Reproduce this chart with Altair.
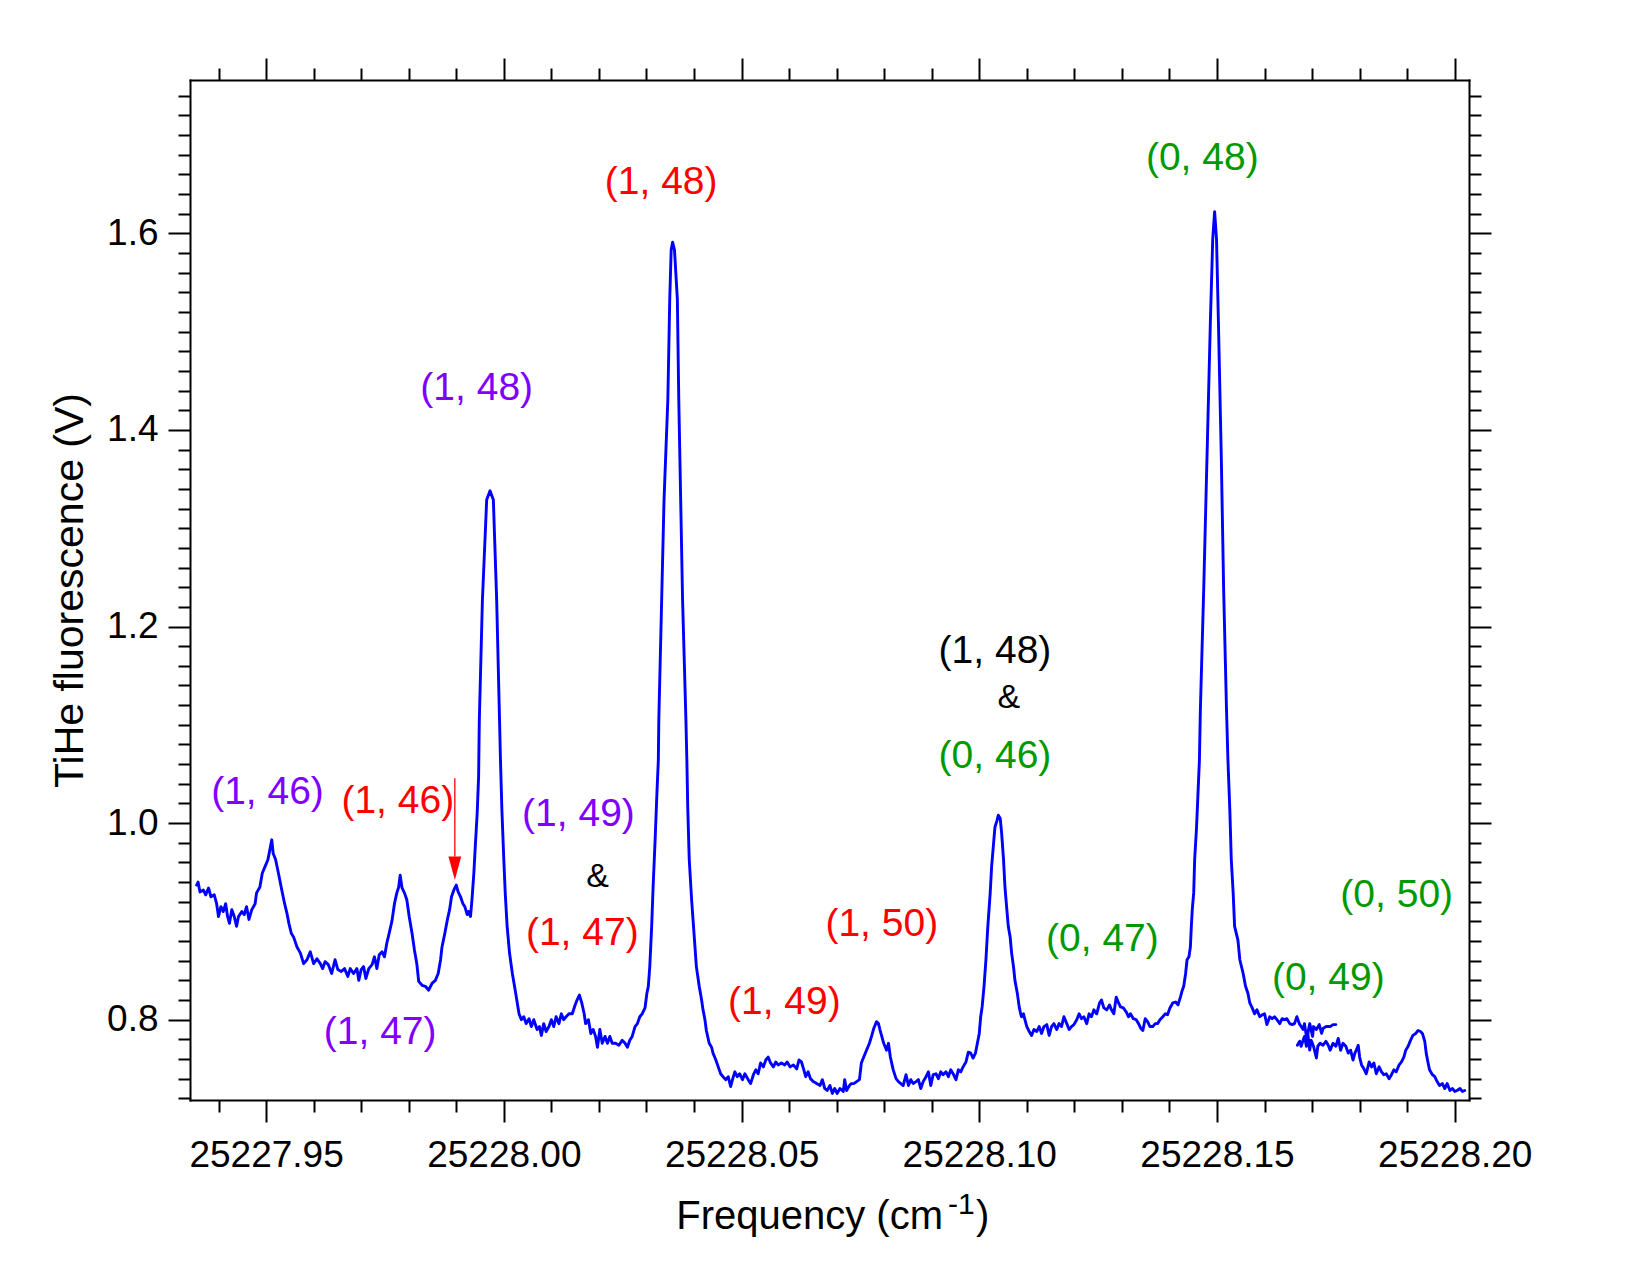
import altair as alt
import pandas as pd

# ---------------------------------------------------------------------------
# Spectrum, main scan (frequency in cm^-1, fluorescence in V)
# ---------------------------------------------------------------------------
freq_a = [
    25227.9354, 25227.9357, 25227.9361, 25227.9368, 25227.9373, 25227.9379, 25227.9384,
    25227.9391, 25227.9396, 25227.9400, 25227.9405, 25227.9410, 25227.9415, 25227.9419,
    25227.9423, 25227.9428, 25227.9433, 25227.9438, 25227.9442, 25227.9449, 25227.9454,
    25227.9459, 25227.9464, 25227.9470, 25227.9477, 25227.9480, 25227.9487, 25227.9492,
    25227.9498, 25227.9504, 25227.9508, 25227.9512, 25227.9515, 25227.9520, 25227.9526,
    25227.9533, 25227.9539, 25227.9544, 25227.9548, 25227.9553, 25227.9558, 25227.9565,
    25227.9572, 25227.9579, 25227.9586, 25227.9593, 25227.9600, 25227.9607, 25227.9614,
    25227.9619, 25227.9624, 25227.9631, 25227.9638, 25227.9645, 25227.9651, 25227.9658,
    25227.9665, 25227.9672, 25227.9677, 25227.9684, 25227.9691, 25227.9695, 25227.9700,
    25227.9705, 25227.9710, 25227.9716, 25227.9723, 25227.9728, 25227.9733, 25227.9738,
    25227.9744, 25227.9749, 25227.9754, 25227.9759, 25227.9765, 25227.9770, 25227.9775,
    25227.9779, 25227.9782, 25227.9786, 25227.9791, 25227.9796, 25227.9801, 25227.9807,
    25227.9812, 25227.9817, 25227.9821, 25227.9828, 25227.9835, 25227.9842, 25227.9849,
    25227.9856, 25227.9862, 25227.9867, 25227.9870, 25227.9876, 25227.9881, 25227.9886,
    25227.9890, 25227.9895, 25227.9900, 25227.9904, 25227.9909, 25227.9914, 25227.9918,
    25227.9923, 25227.9926, 25227.9930, 25227.9933, 25227.9937, 25227.9940, 25227.9944,
    25227.9947, 25227.99485, 25227.9955, 25227.9964, 25227.9971, 25227.9978, 25227.9985,
    25227.9991, 25227.9993, 25227.9996, 25228.0000, 25228.0003, 25228.0007, 25228.0012,
    25228.0018, 25228.0025, 25228.0032, 25228.0037, 25228.0042, 25228.0047, 25228.0053,
    25228.0058, 25228.0063, 25228.0070, 25228.0075, 25228.0079, 25228.0084, 25228.0089,
    25228.0095, 25228.0100, 25228.0105, 25228.0110, 25228.0116, 25228.0121, 25228.0126,
    25228.0131, 25228.0137, 25228.0144, 25228.0150, 25228.0154, 25228.0159, 25228.0164,
    25228.0169, 25228.0172, 25228.0178, 25228.0183, 25228.0188, 25228.0193, 25228.0197,
    25228.0202, 25228.0207, 25228.0213, 25228.0218, 25228.0223, 25228.0228, 25228.0235,
    25228.0242, 25228.0249, 25228.0255, 25228.0260, 25228.0265, 25228.0270, 25228.0276,
    25228.0281, 25228.0286, 25228.0291, 25228.0297, 25228.0301, 25228.0304, 25228.0307,
    25228.0311, 25228.0314, 25228.0318, 25228.0322, 25228.0325, 25228.0326, 25228.0332,
    25228.0337, 25228.0345, 25228.0349, 25228.0352, 25228.0355, 25228.0359, 25228.0365,
    25228.0368, 25228.0372, 25228.0376, 25228.0383, 25228.0385, 25228.0387, 25228.0390,
    25228.0395, 25228.0400, 25228.0405, 25228.0411, 25228.0416, 25228.0419, 25228.0423,
    25228.0426, 25228.0432, 25228.0437, 25228.0440, 25228.0446, 25228.0451, 25228.0456,
    25228.0461, 25228.0467, 25228.0472, 25228.0477, 25228.0481, 25228.0486, 25228.0491,
    25228.0496, 25228.0502, 25228.0507, 25228.0514, 25228.0519, 25228.0525, 25228.0530,
    25228.0535, 25228.0540, 25228.0546, 25228.0551, 25228.0556, 25228.0561, 25228.0567,
    25228.0572, 25228.0577, 25228.0584, 25228.0591, 25228.0596, 25228.0602, 25228.0609,
    25228.0616, 25228.0621, 25228.0626, 25228.0631, 25228.0635, 25228.0640, 25228.0645,
    25228.0651, 25228.0658, 25228.0665, 25228.0670, 25228.0675, 25228.0680, 25228.0686,
    25228.0691, 25228.0696, 25228.0701, 25228.0707, 25228.0714, 25228.0717, 25228.0721,
    25228.0727, 25228.0731, 25228.0736, 25228.0742, 25228.0748, 25228.0752, 25228.0757,
    25228.0763, 25228.0769, 25228.0774, 25228.0778, 25228.0784, 25228.0788, 25228.0791,
    25228.0795, 25228.0799, 25228.0805, 25228.0809, 25228.0813, 25228.0819, 25228.0825,
    25228.0830, 25228.0835, 25228.0840, 25228.0846, 25228.0851, 25228.0856, 25228.0861,
    25228.0867, 25228.0872, 25228.0877, 25228.0882, 25228.0888, 25228.0893, 25228.0898,
    25228.0903, 25228.0909, 25228.0914, 25228.0919, 25228.0924, 25228.0930, 25228.0935,
    25228.0940, 25228.0945, 25228.0951, 25228.0956, 25228.0961, 25228.0966, 25228.0972,
    25228.0977, 25228.0982, 25228.0987, 25228.0992, 25228.0996, 25228.1000, 25228.1003,
    25228.1006, 25228.1010, 25228.1014, 25228.1018, 25228.1023, 25228.1026, 25228.1030,
    25228.1033, 25228.1037, 25228.1040, 25228.1044, 25228.1047, 25228.1051, 25228.1054,
    25228.1058, 25228.1061, 25228.1065, 25228.1068, 25228.1072, 25228.1075, 25228.1080,
    25228.1084, 25228.1087, 25228.1089, 25228.1093, 25228.1096, 25228.1100, 25228.1105,
    25228.1110, 25228.1115, 25228.1121, 25228.1126, 25228.1131, 25228.1136, 25228.1142,
    25228.1147, 25228.1152, 25228.1157, 25228.1163, 25228.1168, 25228.1173, 25228.1178,
    25228.1184, 25228.1189, 25228.1194, 25228.1199, 25228.1205, 25228.1210, 25228.1215,
    25228.1220, 25228.1226, 25228.1231, 25228.1236, 25228.1241, 25228.1247, 25228.1253,
    25228.1257, 25228.1262, 25228.1268, 25228.1274, 25228.1278, 25228.1283, 25228.1288,
    25228.1293, 25228.1297, 25228.1303, 25228.1309, 25228.1314, 25228.1318, 25228.1324,
    25228.1330, 25228.1335, 25228.1340, 25228.1344, 25228.1349, 25228.1354, 25228.1359,
    25228.1365, 25228.1370, 25228.1375, 25228.1380, 25228.1386, 25228.1391, 25228.1396,
    25228.1401, 25228.1407, 25228.1413, 25228.1418, 25228.1423, 25228.1427, 25228.1430,
    25228.1434, 25228.1437, 25228.1441, 25228.1444, 25228.1446, 25228.1448, 25228.1451,
    25228.1453, 25228.1457, 25228.1460, 25228.1463, 25228.1465, 25228.1472, 25228.1479,
    25228.1486, 25228.1491, 25228.1495, 25228.1499, 25228.1503, 25228.1509, 25228.1514,
    25228.1520, 25228.1523, 25228.1527, 25228.1530, 25228.1534, 25228.1537, 25228.1544,
    25228.1548, 25228.1555, 25228.1560, 25228.1565, 25228.1569, 25228.1574, 25228.1579,
    25228.1584, 25228.1590, 25228.1595, 25228.1600, 25228.1605, 25228.1611, 25228.1616,
    25228.1621, 25228.1626, 25228.1632, 25228.1637, 25228.1642, 25228.1647, 25228.1653,
    25228.1658, 25228.1663, 25228.1668, 25228.1673, 25228.1677, 25228.1681, 25228.1684,
    25228.1688, 25228.1691, 25228.1695, 25228.1701, 25228.1703, 25228.1709, 25228.1715,
    25228.1720, 25228.1723, 25228.1729, 25228.1734, 25228.1738, 25228.1744, 25228.1750,
]
volt_a = [
    0.937, 0.940, 0.930, 0.932, 0.927, 0.934, 0.925,
    0.927, 0.918, 0.905, 0.915, 0.910, 0.918, 0.905,
    0.898, 0.912, 0.905, 0.895, 0.905, 0.910, 0.907,
    0.915, 0.902, 0.912, 0.918, 0.929, 0.935, 0.949,
    0.956, 0.963, 0.973, 0.983, 0.969, 0.963, 0.949,
    0.932, 0.918, 0.908, 0.898, 0.888, 0.884, 0.874,
    0.868, 0.857, 0.861, 0.869, 0.857, 0.862, 0.857,
    0.852, 0.859, 0.856, 0.847, 0.861, 0.851, 0.849,
    0.852, 0.844, 0.852, 0.847, 0.852, 0.840, 0.851,
    0.854, 0.842, 0.852, 0.856, 0.864, 0.852, 0.866,
    0.869, 0.864, 0.878, 0.888, 0.901, 0.918, 0.929,
    0.935, 0.947, 0.934, 0.929, 0.922, 0.905, 0.888,
    0.871, 0.857, 0.839, 0.835, 0.834, 0.830, 0.837,
    0.840, 0.847, 0.861, 0.874, 0.888, 0.901, 0.912,
    0.925, 0.932, 0.937, 0.930, 0.925, 0.918, 0.915,
    0.907, 0.910, 0.905, 0.922, 0.949, 0.976, 1.010,
    1.047, 1.105, 1.227, 1.329, 1.338, 1.329, 1.227,
    1.105, 1.064, 1.013, 0.963, 0.929, 0.895, 0.868,
    0.847, 0.827, 0.806, 0.800, 0.803, 0.796, 0.801,
    0.793, 0.800, 0.790, 0.793, 0.784, 0.796, 0.788,
    0.793, 0.800, 0.793, 0.803, 0.796, 0.806, 0.800,
    0.803, 0.806, 0.806, 0.815, 0.820, 0.825, 0.817,
    0.806, 0.796, 0.800, 0.786, 0.790, 0.783, 0.772,
    0.790, 0.776, 0.783, 0.776, 0.783, 0.776, 0.776,
    0.774, 0.779, 0.776, 0.772, 0.779, 0.783, 0.793,
    0.796, 0.803, 0.806, 0.812, 0.827, 0.834, 0.854,
    0.895, 0.935, 0.980, 1.030, 1.064, 1.105, 1.227,
    1.329, 1.431, 1.533, 1.583, 1.591, 1.583, 1.533,
    1.431, 1.329, 1.227, 1.105, 1.064, 1.013, 0.963,
    0.922, 0.888, 0.854, 0.834, 0.820, 0.810, 0.800,
    0.789, 0.776, 0.772, 0.766, 0.759, 0.752, 0.745,
    0.742, 0.739, 0.742, 0.732, 0.739, 0.747, 0.742,
    0.745, 0.739, 0.745, 0.739, 0.735, 0.744, 0.749,
    0.745, 0.756, 0.752, 0.759, 0.762, 0.756, 0.752,
    0.757, 0.754, 0.756, 0.754, 0.757, 0.752, 0.754,
    0.750, 0.759, 0.757, 0.749, 0.742, 0.747, 0.740,
    0.737, 0.735, 0.733, 0.739, 0.730, 0.728, 0.733,
    0.725, 0.730, 0.725, 0.730, 0.727, 0.739, 0.728,
    0.733, 0.735, 0.735, 0.737, 0.739, 0.756, 0.762,
    0.769, 0.776, 0.784, 0.791, 0.798, 0.796, 0.790,
    0.783, 0.776, 0.769, 0.776, 0.762, 0.749, 0.740,
    0.737, 0.735, 0.733, 0.744, 0.733, 0.739, 0.735,
    0.737, 0.739, 0.730, 0.737, 0.742, 0.747, 0.733,
    0.744, 0.745, 0.740, 0.747, 0.744, 0.747, 0.742,
    0.749, 0.745, 0.739, 0.749, 0.747, 0.752, 0.757,
    0.767, 0.766, 0.761, 0.766, 0.776, 0.786, 0.803,
    0.813, 0.834, 0.861, 0.895, 0.929, 0.956, 0.979,
    0.996, 1.002, 1.008, 1.005, 0.990, 0.963, 0.935,
    0.912, 0.895, 0.884, 0.868, 0.854, 0.840, 0.827,
    0.813, 0.806, 0.803, 0.806, 0.800, 0.793, 0.788,
    0.784, 0.790, 0.788, 0.793, 0.786, 0.793, 0.795,
    0.784, 0.793, 0.796, 0.790, 0.796, 0.793, 0.803,
    0.796, 0.790, 0.793, 0.795, 0.800, 0.806, 0.801,
    0.803, 0.796, 0.806, 0.803, 0.810, 0.806, 0.817,
    0.820, 0.812, 0.810, 0.815, 0.810, 0.806, 0.823,
    0.817, 0.813, 0.812, 0.808, 0.803, 0.806, 0.801,
    0.800, 0.796, 0.791, 0.789, 0.801, 0.798, 0.793,
    0.793, 0.796, 0.796, 0.800, 0.803, 0.806, 0.805,
    0.812, 0.817, 0.818, 0.815, 0.823, 0.830, 0.834,
    0.847, 0.861, 0.864, 0.874, 0.895, 0.912, 0.929,
    0.963, 0.996, 1.030, 1.064, 1.115, 1.237, 1.373,
    1.509, 1.594, 1.622, 1.594, 1.509, 1.373, 1.237,
    1.115, 1.064, 1.013, 0.963, 0.929, 0.895, 0.881,
    0.861, 0.847, 0.834, 0.827, 0.817, 0.812, 0.806,
    0.810, 0.803, 0.805, 0.806, 0.795, 0.803, 0.801,
    0.803, 0.800, 0.796, 0.801, 0.800, 0.801, 0.796,
    0.795, 0.796, 0.803, 0.796, 0.793, 0.790, 0.796,
    0.783, 0.786, 0.796, 0.783, 0.793, 0.790, 0.795,
    0.786, 0.791, 0.793, 0.793, 0.793, 0.795, 0.795,
]

# Second scan, overlapping the end of the first one
freq_b = [
    25228.1669, 25228.1674, 25228.1677, 25228.1681, 25228.1684, 25228.1688, 25228.1691,
    25228.1695, 25228.1698, 25228.1703, 25228.1709, 25228.1712, 25228.1717, 25228.1723,
    25228.1729, 25228.1734, 25228.1738, 25228.1744, 25228.1750, 25228.1755, 25228.1760,
    25228.1765, 25228.1771, 25228.1776, 25228.1781, 25228.1786, 25228.1790, 25228.1793,
    25228.1797, 25228.1800, 25228.1804, 25228.1809, 25228.1814, 25228.1820, 25228.1825,
    25228.1830, 25228.1835, 25228.1841, 25228.1846, 25228.1851, 25228.1856, 25228.1862,
    25228.1867, 25228.1872, 25228.1877, 25228.1883, 25228.1888, 25228.1893, 25228.1897,
    25228.1902, 25228.1907, 25228.1912, 25228.1918, 25228.1923, 25228.1928, 25228.1932,
    25228.1937, 25228.1940, 25228.1944, 25228.1947, 25228.1953, 25228.1958, 25228.1963,
    25228.1968, 25228.1974, 25228.1979, 25228.1984, 25228.1990, 25228.1995, 25228.2000,
    25228.2005, 25228.2011, 25228.2016, 25228.2021,
]
volt_b = [
    0.774, 0.778, 0.773, 0.779, 0.783, 0.773, 0.786,
    0.769, 0.779, 0.773, 0.761, 0.773, 0.776, 0.774,
    0.778, 0.774, 0.769, 0.776, 0.773, 0.781, 0.769,
    0.776, 0.773, 0.766, 0.769, 0.759, 0.766, 0.769,
    0.774, 0.762, 0.754, 0.750, 0.745, 0.757, 0.752,
    0.756, 0.745, 0.752, 0.747, 0.744, 0.745, 0.740,
    0.744, 0.749, 0.747, 0.754, 0.757, 0.762, 0.769,
    0.773, 0.779, 0.784, 0.786, 0.789, 0.788, 0.786,
    0.778, 0.766, 0.756, 0.749, 0.744, 0.742, 0.737,
    0.733, 0.735, 0.730, 0.735, 0.728, 0.730, 0.727,
    0.728, 0.730, 0.727, 0.728,
]

# Line assignments (Δv, J) placed next to the peaks, grouped by colour
purple_text = ["(1, 46)", "(1, 47)", "(1, 48)", "(1, 49)"]
purple_freq = [25227.9503, 25227.9740, 25227.9943, 25228.0157]
purple_volt = [1.0317, 0.7875, 1.4424, 1.0091]

red_text = ["(1, 46)", "(1, 47)", "(1, 48)", "(1, 49)", "(1, 50)"]
red_freq = [25227.9777, 25228.0165, 25228.0331, 25228.0590, 25228.0795]
red_volt = [1.0227, 0.8887, 1.6523, 0.8175, 0.8972]

green_text = ["(0, 46)", "(0, 47)", "(0, 48)", "(0, 49)", "(0, 50)"]
green_freq = [25228.1033, 25228.1259, 25228.1469, 25228.1734, 25228.1878]
green_volt = [1.0685, 0.8819, 1.6764, 0.8421, 0.9269]

black_text = ["(1, 48)"]
black_freq = [25228.1033]
black_volt = [1.1747]

amp_text = ["&", "&"]
amp_freq = [25228.0197, 25228.1062]
amp_volt = [0.9447, 1.1273]

# Arrow marking the weak (1, 46) shoulder
arrow_freq = [25227.9897]
arrow_top = [1.0456]
arrow_base = [0.9659]
arrow_tip = [0.9422]

# ---------------------------------------------------------------------------
FONT = "Liberation Sans"
PURPLE = "#8000ff"
RED = "#ff0000"
GREEN = "#009900"
BLUE = "#0000ff"

x_scale = alt.Scale(domain=[25227.934, 25228.203], nice=False, zero=False)
y_scale = alt.Scale(domain=[0.7183, 1.756], nice=False, zero=False)

x_tick_values = [round(25227.94 + 0.01 * i, 2) for i in range(27)]
y_tick_values = [round(0.72 + 0.02 * i, 2) for i in range(52)]

X_MAJOR = "abs(datum.value * 20 - round(datum.value * 20)) < 0.01"
Y_MAJOR = "abs(datum.value * 5 - round(datum.value * 5)) < 0.01"


def tick_size(test):
    return {"condition": {"test": test, "value": 22}, "value": 12}


frame_style = dict(
    domainColor="black", domainWidth=2, domainCap="square",
    tickColor="black", tickWidth=2, grid=False, offset=0,
)

x_bottom = alt.Axis(
    orient="bottom", values=x_tick_values, tickSize=tick_size(X_MAJOR),
    labelExpr=f"{X_MAJOR} ? format(datum.value, '.2f') : ''",
    labelFont=FONT, labelFontSize=37, labelColor="black", labelPadding=15,
    labelOverlap=False, labelFlush=False, title=None,
    **frame_style,
)
y_left = alt.Axis(
    orient="left", values=y_tick_values, tickSize=tick_size(Y_MAJOR),
    labelExpr=f"{Y_MAJOR} ? format(datum.value, '.1f') : ''",
    labelFont=FONT, labelFontSize=37, labelColor="black", labelPadding=10,
    labelOverlap=False, labelFlush=False,
    title="TiHe fluorescence (V)", titleFont=FONT, titleFontSize=41,
    titleFontWeight="normal", titleColor="black", titleAngle=270,
    titleX=-120, titleY=510, titleAlign="center", titleBaseline="middle",
    **frame_style,
)
x_top = alt.Axis(
    orient="top", values=x_tick_values, tickSize=tick_size(X_MAJOR),
    labels=False, title=None, **frame_style,
)
y_right = alt.Axis(
    orient="right", values=y_tick_values, tickSize=tick_size(Y_MAJOR),
    labels=False, title=None, **frame_style,
)

spectrum = pd.concat([
    pd.DataFrame({"freq": freq_a, "volt": volt_a, "scan": "a"}),
    pd.DataFrame({"freq": freq_b, "volt": volt_b, "scan": "b"}),
], ignore_index=True)
spectrum["order"] = range(len(spectrum))

line = alt.Chart(spectrum).mark_line(
    color=BLUE, strokeWidth=2.9, strokeJoin="round", strokeCap="round"
).encode(
    x=alt.X("freq:Q", scale=x_scale, axis=x_bottom),
    y=alt.Y("volt:Q", scale=y_scale, axis=y_left),
    detail="scan:N",
    order="order:Q",
)

# invisible copy carrying the mirrored top/right axes that close the frame
mirror = alt.Chart(spectrum).mark_line(strokeOpacity=0).encode(
    x=alt.X("freq:Q", scale=x_scale, axis=x_top),
    y=alt.Y("volt:Q", scale=y_scale, axis=y_right),
    detail="scan:N",
    order="order:Q",
)


def labels(text, freq, volt, color, size):
    df = pd.DataFrame({"label": text, "freq": freq, "volt": volt})
    return alt.Chart(df).mark_text(
        font=FONT, fontSize=size, color=color, align="center", baseline="middle"
    ).encode(
        x=alt.X("freq:Q", scale=x_scale, axis=None),
        y=alt.Y("volt:Q", scale=y_scale, axis=None),
        text="label:N",
    )


arrow_df = pd.DataFrame({
    "freq": arrow_freq, "top": arrow_top, "base": arrow_base,
    "mid": [(b + t) / 2 for b, t in zip(arrow_base, arrow_tip)],
})
arrow_shaft = alt.Chart(arrow_df).mark_rule(color=RED, strokeWidth=1.3).encode(
    x=alt.X("freq:Q", scale=x_scale, axis=None),
    y=alt.Y("top:Q", scale=y_scale, axis=None),
    y2="base:Q",
)
arrow_head = alt.Chart(arrow_df).mark_point(
    shape="M-0.55,-1L0.55,-1L0,1Z", size=543, filled=True,
    color=RED, opacity=1, strokeWidth=0,
).encode(
    x=alt.X("freq:Q", scale=x_scale, axis=None),
    y=alt.Y("mid:Q", scale=y_scale, axis=None),
)

# x-axis title with a true superscript on the unit: "Frequency (cm" + "-1" + ")"
title_src = pd.DataFrame({"k": [0]})


def title_piece(text, px, py, size, align):
    return alt.Chart(title_src).mark_text(
        font=FONT, fontSize=size, color="black", align=align, baseline="alphabetic"
    ).encode(x=alt.value(px), y=alt.value(py), text=alt.value(text))


x_title = [
    title_piece("Frequency (cm", 753, 1149, 40, "right"),
    title_piece("-1", 758, 1134, 30, "left"),
    title_piece(")", 786, 1149, 40, "left"),
]

chart = alt.layer(
    line,
    mirror,
    arrow_shaft,
    arrow_head,
    labels(purple_text, purple_freq, purple_volt, PURPLE, 39),
    labels(red_text, red_freq, red_volt, RED, 39),
    labels(green_text, green_freq, green_volt, GREEN, 39),
    labels(black_text, black_freq, black_volt, "black", 39),
    labels(amp_text, amp_freq, amp_volt, "black", 34),
    *x_title,
).resolve_axis(
    x="independent", y="independent"
).properties(
    width=1279,
    height=1020,
    autosize=alt.AutoSizeParams(type="none"),
    padding={"left": 190, "top": 80, "right": 181, "bottom": 175},
).configure(
    background="white"
).configure_view(
    stroke="transparent"
)

chart.save("out.html", embed_options={"renderer": "svg", "actions": False})
